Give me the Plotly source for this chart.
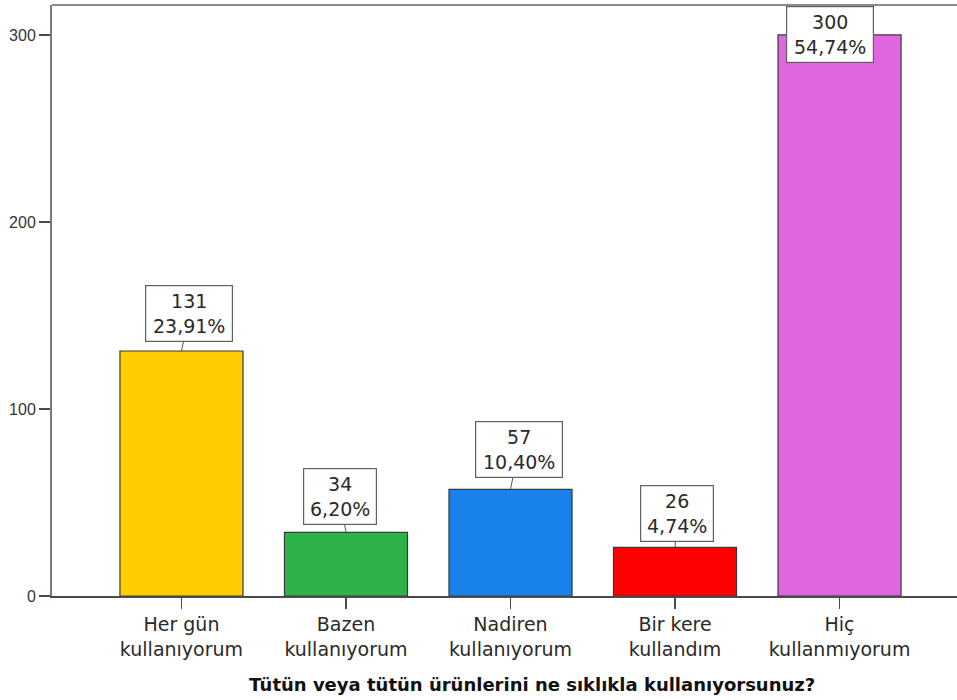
import plotly.graph_objects as go

categories = ["Her gün<br>kullanıyorum", "Bazen<br>kullanıyorum", "Nadiren<br>kullanıyorum",
              "Bir kere<br>kullandım", "Hiç<br>kullanmıyorum"]
counts = [131, 34, 57, 26, 300]
percents = ["23,91%", "6,20%", "10,40%", "4,74%", "54,74%"]
y_ticks = [0, 100, 200, 300]
x_title = "Tütün veya tütün ürünlerini ne sıklıkla kullanıyorsunuz?"

bar_colors = ["#FFCC00", "#2DB34A", "#1A82ED", "#FF0000", "#E066E0"]
label_dx = [8, -6, 8, 2, -10]
label_dy = [-38, -36, -40, -34, 0]
label_w = [78, 64, 78, 64, 78]

fig = go.Figure()
fig.add_trace(go.Bar(
    x=categories, y=counts, width=0.748,
    marker=dict(color=bar_colors, line=dict(color="#3a3a3a", width=1.2)),
    hoverinfo="skip",
))

for c, v, p, dx, dy, w in zip(categories, counts, percents, label_dx, label_dy, label_w):
    fig.add_annotation(
        x=c, y=v, xref="x", yref="y",
        text=f"{v}<br>{p}",
        showarrow=True, arrowhead=0, arrowwidth=1, arrowcolor="#555555",
        ax=dx, ay=dy, axref="pixel", ayref="pixel",
        bgcolor="white", bordercolor="#606060", borderwidth=1.2, borderpad=4,
        width=w,
        font=dict(family="DejaVu Sans", size=19, color="#2a2a2a"),
        align="center",
    )

fig.add_annotation(
    x=(532 - 52) / 905, y=(596 - 684) / 591, xref="paper", yref="paper",
    text=f"<b>{x_title}</b>", showarrow=False, xanchor="center", yanchor="middle",
    font=dict(family="DejaVu Sans", size=18, color="#111111"),
)

# top border
fig.add_shape(type="line", xref="paper", yref="paper", x0=0, x1=1, y0=1, y1=1,
              line=dict(color="#8a8a8a", width=2))

fig.update_layout(
    width=957, height=700,
    margin=dict(l=52, r=0, t=5, b=104),
    paper_bgcolor="white", plot_bgcolor="white",
    showlegend=False, bargap=0,
    xaxis=dict(
        range=[-0.787, 4.714],
        showline=True, linecolor="#4a4a4a", linewidth=1.5,
        ticks="outside", ticklen=11, tickcolor="#4a4a4a", tickwidth=1.5,
        showgrid=False, zeroline=False,
        tickfont=dict(family="DejaVu Sans", size=19, color="#2a2a2a"),
    ),
    yaxis=dict(
        range=[0, 316],
        tickvals=y_ticks,
        showline=True, linecolor="#7a7a7a", linewidth=2,
        ticks="outside", ticklen=11, tickcolor="#4a4a4a", tickwidth=1.5,
        showgrid=False, zeroline=False,
        tickfont=dict(family="Liberation Sans", size=16, color="#333333"),
    ),
)

fig.write_html(
    "out.html",
    config={"displayModeBar": False, "staticPlot": True},
    post_script="document.body.style.margin='0';document.body.style.overflow='hidden';",
)
